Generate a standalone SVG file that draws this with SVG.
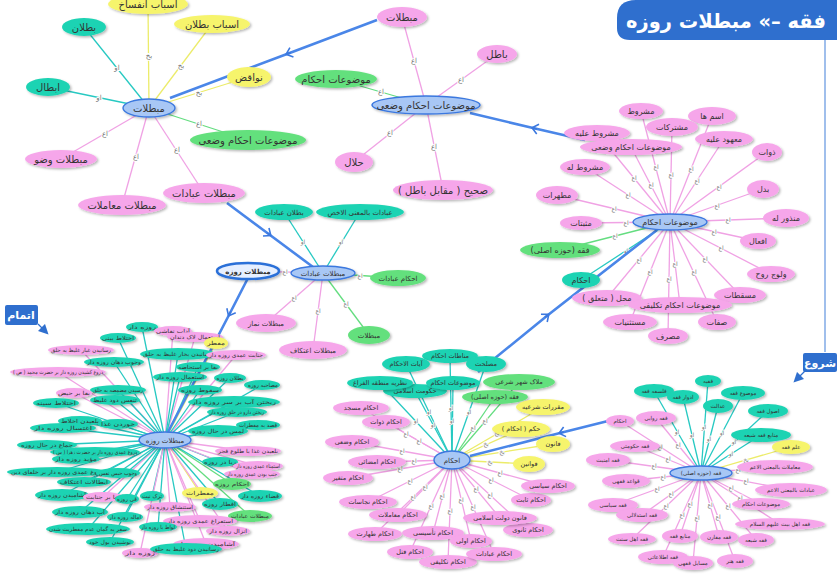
<svg xmlns="http://www.w3.org/2000/svg" width="837" height="574" viewBox="0 0 837 574">
<defs>
<filter id="sh" x="-20%" y="-40%" width="150%" height="200%"><feDropShadow dx="1.5" dy="1.5" stdDeviation="1" flood-color="#000" flood-opacity="0.28"/></filter>
<marker id="chev" markerUnits="userSpaceOnUse" markerWidth="14" markerHeight="14" refX="7" refY="7" orient="auto"><path d="M2 2 L8 7 L2 12 M8 7 L3 7" fill="none" stroke="#3b78df" stroke-width="1.6"/></marker>
<marker id="ah" markerUnits="userSpaceOnUse" markerWidth="10" markerHeight="10" refX="5" refY="5" orient="auto"><path d="M0 0 L10 5 L0 10 Z" fill="#2f6fce"/></marker>
</defs>
<style>
text{font-family:"DejaVu Sans",sans-serif;text-anchor:middle;fill:#333;direction:rtl}
ellipse{filter:url(#sh)}
.p{fill:#f6a6ea}.t{fill:#1fd3b3}.g{fill:#64e07d}.y{fill:#f6f46c}
.b{fill:#a8c7f5;stroke:#3b78df;stroke-width:1.4}
.bb{fill:#e6efff;stroke:#2b6fd8;stroke-width:2.6}
.f11{font-size:11px}.f10{font-size:10px}.f9{font-size:9px}.f8{font-size:8px}.f7{font-size:7px}.f65{font-size:6.5px}.f55{font-size:5.5px}
line{stroke-width:1.3}
.ep{stroke:#f0a2e4}.et{stroke:#27c9c2}.eg{stroke:#64dd80}.ey{stroke:#ecec6a}
.bl{stroke:#4a86e8;stroke-width:2.6;fill:none}
.el{font-size:7px;fill:#777;stroke:#fff;stroke-width:2;paint-order:stroke}
.es{font-size:6px;fill:#777;stroke:#fff;stroke-width:1.6;paint-order:stroke}
.w{fill:#fff;font-weight:bold}
</style>

<g id="title"><path d="M837 0 H636 Q617 0 617 18 V28 Q617 40 630 40 H837 Z" fill="#2f6fce"/><text x="726" y="28" class="w" style="font-size:20px" textLength="200" lengthAdjust="spacingAndGlyphs">فقه –» مبطلات روزه</text></g>
<g id="start-end">
<line x1="825" y1="40" x2="825" y2="352" stroke="#6d9de2" stroke-width="1.5"/>
<rect x="803" y="353" width="34" height="19" rx="2" fill="#2f6fce"/><text x="820" y="367" class="w" style="font-size:11px">شروع</text>
<line x1="806" y1="370" x2="797" y2="379" stroke="#2f6fce" stroke-width="2.5" marker-end="url(#ah)"/>
<rect x="5" y="305" width="33" height="20" rx="2" fill="#2f6fce"/><text x="21" y="319" class="w" style="font-size:11px">اتمام</text>
<line x1="38" y1="324" x2="45" y2="331" stroke="#2f6fce" stroke-width="2.5" marker-end="url(#ah)"/>
</g>

<g id="connectors">
<line class="ey" x1="149" y1="108" x2="148" y2="4"/>
<line class="et" x1="149" y1="108" x2="84" y2="27"/>
<line class="ey" x1="149" y1="108" x2="212" y2="24"/>
<line class="ey" x1="149" y1="108" x2="249" y2="77"/>
<line class="et" x1="149" y1="108" x2="48" y2="87"/>
<line class="eg" x1="149" y1="108" x2="248" y2="140"/>
<line class="ep" x1="149" y1="108" x2="61" y2="159"/>
<line class="ep" x1="149" y1="108" x2="204" y2="193"/>
<line class="ep" x1="149" y1="108" x2="122" y2="205"/>
<text class="el" x="149" y="58">بخ</text><text class="el" x="117" y="70">او</text><text class="el" x="181" y="68">بخ</text><text class="el" x="199" y="95">بخ</text><text class="el" x="99" y="100">او</text><text class="el" x="199" y="126">اع</text><text class="el" x="105" y="136">اع</text><text class="el" x="177" y="152">اع</text><text class="el" x="136" y="159">اع</text>
<line class="ep" x1="426" y1="105" x2="402" y2="17"/>
<line class="ep" x1="426" y1="105" x2="497" y2="54"/>
<line class="eg" x1="426" y1="105" x2="336" y2="79"/>
<line class="ep" x1="426" y1="105" x2="354" y2="162"/>
<line class="ep" x1="426" y1="105" x2="443" y2="190"/>
<text class="el" x="414" y="63">اع</text><text class="el" x="461" y="82">اع</text><text class="el" x="381" y="94">اع</text><text class="el" x="390" y="135">اع</text><text class="el" x="434" y="149">اع</text>
<line class="ep" x1="670" y1="222" x2="641" y2="111"/>
<line class="ep" x1="670" y1="222" x2="712" y2="116"/>
<line class="ep" x1="670" y1="222" x2="672" y2="127"/>
<line class="ep" x1="670" y1="222" x2="597" y2="133"/>
<line class="ep" x1="670" y1="222" x2="724" y2="139"/>
<line class="ep" x1="670" y1="222" x2="631" y2="147"/>
<line class="ep" x1="670" y1="222" x2="767" y2="152"/>
<line class="ep" x1="670" y1="222" x2="585" y2="167"/>
<line class="ep" x1="670" y1="222" x2="763" y2="189"/>
<line class="ep" x1="670" y1="222" x2="557" y2="195"/>
<line class="ep" x1="670" y1="222" x2="581" y2="223"/>
<line class="ep" x1="670" y1="222" x2="786" y2="218"/>
<line class="ep" x1="670" y1="222" x2="758" y2="241"/>
<line class="ep" x1="670" y1="222" x2="771" y2="274"/>
<line class="ep" x1="670" y1="222" x2="740" y2="295"/>
<line class="ep" x1="670" y1="222" x2="680" y2="305"/>
<line class="ep" x1="670" y1="222" x2="607" y2="298"/>
<line class="ep" x1="670" y1="222" x2="717" y2="322"/>
<line class="ep" x1="670" y1="222" x2="630" y2="322"/>
<line class="ep" x1="670" y1="222" x2="668" y2="336"/>
<line class="eg" x1="670" y1="222" x2="560" y2="250"/>
<line class="et" x1="670" y1="222" x2="581" y2="280"/>
<text class="es" x="656" y="169">اع</text><text class="es" x="691" y="171">اع</text><text class="es" x="671" y="177">اع</text><text class="es" x="634" y="180">اع</text><text class="es" x="697" y="183">اع</text><text class="es" x="651" y="187">اع</text><text class="es" x="719" y="189">اع</text><text class="es" x="628" y="197">اع</text><text class="es" x="717" y="208">اع</text><text class="es" x="614" y="211">اع</text><text class="es" x="626" y="225">اع</text><text class="es" x="728" y="222">اع</text><text class="es" x="714" y="234">اع</text><text class="es" x="721" y="250">اع</text><text class="es" x="705" y="261">اع</text><text class="es" x="675" y="266">اع</text><text class="es" x="639" y="262">اع</text><text class="es" x="694" y="274">اع</text><text class="es" x="650" y="274">اع</text><text class="es" x="669" y="281">اع</text><text class="es" x="615" y="238">اع</text><text class="es" x="626" y="253">او</text>
<line class="et" x1="323" y1="273" x2="284" y2="212"/>
<line class="et" x1="323" y1="273" x2="360" y2="212"/>
<line class="eg" x1="323" y1="273" x2="398" y2="278"/>
<line class="ep" x1="323" y1="273" x2="248" y2="271"/>
<line class="ep" x1="323" y1="273" x2="266" y2="323"/>
<line class="ep" x1="323" y1="273" x2="313" y2="350"/>
<line class="eg" x1="323" y1="273" x2="369" y2="335"/>
<text class="es" x="303" y="244">او</text><text class="es" x="341" y="244">او</text><text class="es" x="360" y="278">اع</text><text class="es" x="285" y="274">اع</text><text class="es" x="294" y="300">اع</text><text class="es" x="318" y="313">اع</text><text class="es" x="346" y="306">اع</text>
<line class="et" x1="452" y1="460" x2="450" y2="356"/>
<line class="et" x1="452" y1="460" x2="406" y2="364"/>
<line class="et" x1="452" y1="460" x2="486" y2="364"/>
<line class="et" x1="452" y1="460" x2="380" y2="383"/>
<line class="et" x1="452" y1="460" x2="415" y2="391"/>
<line class="et" x1="452" y1="460" x2="453" y2="383"/>
<line class="eg" x1="452" y1="460" x2="519" y2="382"/>
<line class="eg" x1="452" y1="460" x2="495" y2="397"/>
<line class="ey" x1="452" y1="460" x2="543" y2="407"/>
<line class="ey" x1="452" y1="460" x2="521" y2="429"/>
<line class="ey" x1="452" y1="460" x2="553" y2="444"/>
<line class="ey" x1="452" y1="460" x2="529" y2="464"/>
<line class="ep" x1="452" y1="460" x2="361" y2="408"/>
<line class="ep" x1="452" y1="460" x2="386" y2="422"/>
<line class="ep" x1="452" y1="460" x2="352" y2="442"/>
<line class="ep" x1="452" y1="460" x2="377" y2="462"/>
<line class="ep" x1="452" y1="460" x2="348" y2="478"/>
<line class="ep" x1="452" y1="460" x2="368" y2="502"/>
<line class="ep" x1="452" y1="460" x2="398" y2="515"/>
<line class="ep" x1="452" y1="460" x2="375" y2="534"/>
<line class="ep" x1="452" y1="460" x2="433" y2="533"/>
<line class="ep" x1="452" y1="460" x2="410" y2="552"/>
<line class="ep" x1="452" y1="460" x2="448" y2="562"/>
<line class="ep" x1="452" y1="460" x2="471" y2="541"/>
<line class="ep" x1="452" y1="460" x2="494" y2="554"/>
<line class="ep" x1="452" y1="460" x2="528" y2="530"/>
<line class="ep" x1="452" y1="460" x2="500" y2="518"/>
<line class="ep" x1="452" y1="460" x2="531" y2="500"/>
<line class="ep" x1="452" y1="460" x2="548" y2="486"/>
<text class="es" x="451" y="410">او</text><text class="es" x="429" y="414">او</text><text class="es" x="469" y="414">او</text><text class="es" x="416" y="423">او</text><text class="es" x="433" y="427">او</text><text class="es" x="452" y="423">او</text><text class="es" x="485" y="423">اع</text><text class="es" x="473" y="430">اع</text><text class="es" x="497" y="435">بخ</text><text class="es" x="486" y="446">بخ</text><text class="es" x="502" y="454">بخ</text><text class="es" x="490" y="464">بخ</text>
<text class="es" x="406" y="436">اع</text><text class="es" x="419" y="443">اع</text><text class="es" x="402" y="453">اع</text><text class="es" x="414" y="463">اع</text><text class="es" x="400" y="471">اع</text><text class="es" x="410" y="483">اع</text><text class="es" x="425" y="489">اع</text><text class="es" x="413" y="499">اع</text><text class="es" x="442" y="498">اع</text><text class="es" x="431" y="508">اع</text><text class="es" x="450" y="513">اع</text><text class="es" x="461" y="502">اع</text><text class="es" x="473" y="509">اع</text><text class="es" x="490" y="497">اع</text><text class="es" x="476" y="491">اع</text><text class="es" x="491" y="482">اع</text><text class="es" x="500" y="475">اع</text>
<line class="et" x1="701" y1="473" x2="708" y2="381"/>
<line class="et" x1="701" y1="473" x2="654" y2="391"/>
<line class="et" x1="701" y1="473" x2="683" y2="397"/>
<line class="et" x1="701" y1="473" x2="743" y2="393"/>
<line class="et" x1="701" y1="473" x2="718" y2="406"/>
<line class="et" x1="701" y1="473" x2="768" y2="411"/>
<line class="et" x1="701" y1="473" x2="761" y2="435"/>
<line class="ey" x1="701" y1="473" x2="791" y2="447"/>
<line class="ep" x1="701" y1="473" x2="620" y2="421"/>
<line class="ep" x1="701" y1="473" x2="656" y2="418"/>
<line class="ep" x1="701" y1="473" x2="635" y2="446"/>
<line class="ep" x1="701" y1="473" x2="608" y2="460"/>
<line class="ep" x1="701" y1="473" x2="775" y2="467"/>
<line class="ep" x1="701" y1="473" x2="626" y2="481"/>
<line class="ep" x1="701" y1="473" x2="791" y2="490"/>
<line class="ep" x1="701" y1="473" x2="761" y2="504"/>
<line class="ep" x1="701" y1="473" x2="613" y2="505"/>
<line class="ep" x1="701" y1="473" x2="642" y2="515"/>
<line class="ep" x1="701" y1="473" x2="780" y2="524"/>
<line class="ep" x1="701" y1="473" x2="632" y2="539"/>
<line class="ep" x1="701" y1="473" x2="680" y2="536"/>
<line class="ep" x1="701" y1="473" x2="719" y2="537"/>
<line class="ep" x1="701" y1="473" x2="756" y2="540"/>
<line class="ep" x1="701" y1="473" x2="663" y2="557"/>
<line class="ep" x1="701" y1="473" x2="693" y2="563"/>
<line class="ep" x1="701" y1="473" x2="735" y2="561"/>
<text class="es" x="704" y="429">او</text><text class="es" x="677" y="434">او</text><text class="es" x="692" y="437">او</text><text class="es" x="722" y="435">او</text><text class="es" x="709" y="441">او</text><text class="es" x="734" y="444">او</text><text class="es" x="731" y="456">او</text><text class="es" x="746" y="462">بخ</text><text class="es" x="660" y="449">اع</text><text class="es" x="678" y="447">اع</text><text class="es" x="668" y="461">اع</text><text class="es" x="654" y="468">اع</text><text class="es" x="738" y="472">اع</text><text class="es" x="663" y="479">اع</text><text class="es" x="746" y="483">اع</text><text class="es" x="731" y="490">اع</text><text class="es" x="657" y="491">اع</text><text class="es" x="671" y="496">اع</text><text class="es" x="740" y="500">اع</text><text class="es" x="666" y="508">اع</text><text class="es" x="690" y="506">اع</text><text class="es" x="710" y="507">اع</text><text class="es" x="728" y="508">اع</text><text class="es" x="682" y="517">اع</text><text class="es" x="697" y="520">اع</text><text class="es" x="718" y="519">اع</text>
<line class="et" x1="165" y1="440" x2="142" y2="327"/><line class="ep" x1="165" y1="440" x2="173" y2="331"/><line class="et" x1="165" y1="440" x2="118" y2="338"/><line class="ep" x1="165" y1="440" x2="195" y2="337"/><line class="ey" x1="165" y1="440" x2="216" y2="343"/><line class="ep" x1="165" y1="440" x2="81" y2="350"/><line class="et" x1="165" y1="440" x2="178" y2="354"/><line class="ep" x1="165" y1="440" x2="236" y2="355"/><line class="et" x1="165" y1="440" x2="114" y2="362"/><line class="et" x1="165" y1="440" x2="198" y2="367"/><line class="ep" x1="165" y1="440" x2="58" y2="372"/><line class="et" x1="165" y1="440" x2="180" y2="377"/><line class="et" x1="165" y1="440" x2="262" y2="385"/><line class="et" x1="165" y1="440" x2="230" y2="378"/><line class="et" x1="165" y1="440" x2="118" y2="390"/><line class="ep" x1="165" y1="440" x2="74" y2="393"/><line class="et" x1="165" y1="440" x2="200" y2="390"/><line class="et" x1="165" y1="440" x2="115" y2="400"/><line class="et" x1="165" y1="440" x2="56" y2="403"/><line class="et" x1="165" y1="440" x2="234" y2="402"/><line class="et" x1="165" y1="440" x2="237" y2="412"/><line class="et" x1="165" y1="440" x2="80" y2="421"/><line class="et" x1="165" y1="440" x2="118" y2="424"/><line class="et" x1="165" y1="440" x2="63" y2="428"/><line class="et" x1="165" y1="440" x2="258" y2="425"/><line class="et" x1="165" y1="440" x2="218" y2="431"/><line class="et" x1="165" y1="440" x2="47" y2="445"/><line class="ep" x1="165" y1="440" x2="248" y2="451"/><line class="et" x1="165" y1="440" x2="95" y2="452"/><line class="et" x1="165" y1="440" x2="76" y2="459"/><line class="et" x1="165" y1="440" x2="220" y2="462"/><line class="ep" x1="165" y1="440" x2="258" y2="466"/><line class="ep" x1="165" y1="440" x2="252" y2="474"/><line class="et" x1="165" y1="440" x2="57" y2="472"/><line class="et" x1="165" y1="440" x2="118" y2="473"/><line class="et" x1="165" y1="440" x2="84" y2="482"/><line class="eg" x1="165" y1="440" x2="232" y2="484"/><line class="ey" x1="165" y1="440" x2="200" y2="493"/><line class="et" x1="165" y1="440" x2="62" y2="495"/><line class="ep" x1="165" y1="440" x2="103" y2="497"/><line class="et" x1="165" y1="440" x2="127" y2="499"/><line class="et" x1="165" y1="440" x2="260" y2="496"/><line class="et" x1="165" y1="440" x2="152" y2="496"/><line class="ep" x1="165" y1="440" x2="170" y2="507"/><line class="et" x1="165" y1="440" x2="220" y2="504"/><line class="et" x1="165" y1="440" x2="80" y2="512"/><line class="eg" x1="165" y1="440" x2="250" y2="516"/><line class="et" x1="165" y1="440" x2="125" y2="517"/><line class="ep" x1="165" y1="440" x2="200" y2="521"/><line class="et" x1="165" y1="440" x2="158" y2="527"/><line class="et" x1="165" y1="440" x2="88" y2="529"/><line class="ep" x1="165" y1="440" x2="228" y2="531"/><line class="et" x1="165" y1="440" x2="110" y2="542"/><line class="ep" x1="165" y1="440" x2="206" y2="544"/><line class="et" x1="165" y1="440" x2="186" y2="549"/><line class="ep" x1="165" y1="440" x2="140" y2="553"/>
<path class="bl" d="M377 20 L287 54 L170 98" marker-mid="url(#chev)"/>
<path class="bl" d="M585 140 L533 128 L470 113" marker-mid="url(#chev)"/>
<path class="bl" d="M227 203 L270 235 L313 267" marker-mid="url(#chev)"/>
<path class="bl" d="M248 278 L229 315 L168 432" marker-mid="url(#chev)"/>
<path class="bl" d="M478 372 L548 315 L657 230" marker-mid="url(#chev)"/>
<path class="bl" d="M608 421 L560 433 L470 456" marker-mid="url(#chev)"/>
</g>

<g id="cluster-mobtalat">
<g id="a1"><ellipse class="y" cx="148" cy="4" rx="40" ry="10"/><text class="f10" x="148" y="8">اسباب انفساخ</text></g>
<g id="a2"><ellipse class="t" cx="84" cy="27" rx="22" ry="9"/><text class="f10" x="84" y="31">بطلان</text></g>
<g id="a3"><ellipse class="y" cx="212" cy="24" rx="38" ry="9"/><text class="f10" x="212" y="28">اسباب بطلان</text></g>
<g id="a4"><ellipse class="y" cx="249" cy="77" rx="22" ry="10"/><text class="f10" x="249" y="81">نواقض</text></g>
<g id="a5"><ellipse class="t" cx="48" cy="87" rx="22" ry="9"/><text class="f10" x="48" y="91">ابطال</text></g>
<g id="a6"><ellipse class="g" cx="248" cy="140" rx="58" ry="10"/><text class="f10" x="248" y="144">موضوعات احکام وضعی</text></g>
<g id="a7"><ellipse class="p" cx="61" cy="159" rx="36" ry="9"/><text class="f10" x="61" y="163">مبطلات وضو</text></g>
<g id="a8"><ellipse class="p" cx="204" cy="193" rx="41" ry="10"/><text class="f10" x="204" y="197">مبطلات عبادات</text></g>
<g id="a9"><ellipse class="p" cx="122" cy="205" rx="44" ry="10"/><text class="f10" x="122" y="209">مبطلات معاملات</text></g>
<g id="c1"><ellipse class="b" cx="149" cy="108" rx="26" ry="9"/><text class="f10" x="149" y="112">مبطلات</text></g>
</g>

<g id="cluster-vazi">
<g id="b1"><ellipse class="p" cx="402" cy="17" rx="25" ry="10"/><text class="f10" x="402" y="21">مبطلات</text></g>
<g id="b2"><ellipse class="p" cx="497" cy="54" rx="20" ry="9"/><text class="f10" x="497" y="58">باطل</text></g>
<g id="b3"><ellipse class="g" cx="336" cy="79" rx="41" ry="9"/><text class="f10" x="336" y="83">موضوعات احکام</text></g>
<g id="b4"><ellipse class="p" cx="354" cy="162" rx="19" ry="10"/><text class="f10" x="354" y="166">حلال</text></g>
<g id="b5"><ellipse class="p" cx="443" cy="190" rx="50" ry="10"/><text class="f10" x="443" y="194">صحیح ( مقابل باطل )</text></g>
<g id="c2"><ellipse class="b" cx="426" cy="105" rx="54" ry="9"/><text class="f10" x="426" y="109">موضوعات احکام وضعی</text></g>
</g>

<g id="cluster-mozooat">
<g id="d1"><ellipse class="p" cx="641" cy="111" rx="22" ry="8"/><text class="f8" x="641" y="114">مشروط</text></g>
<g id="d2"><ellipse class="p" cx="712" cy="116" rx="24" ry="9"/><text class="f8" x="712" y="119">اسم ها</text></g>
<g id="d3"><ellipse class="p" cx="672" cy="127" rx="26" ry="9"/><text class="f8" x="672" y="130">مشترکات</text></g>
<g id="d4"><ellipse class="p" cx="597" cy="133" rx="33" ry="8"/><text class="f8" x="597" y="136">مشروط علیه</text></g>
<g id="d5"><ellipse class="p" cx="724" cy="139" rx="29" ry="8"/><text class="f8" x="724" y="142">معهود علیه</text></g>
<g id="d6"><ellipse class="p" cx="631" cy="147" rx="51" ry="8"/><text class="f8" x="631" y="150">موضوعات احکام وضعی</text></g>
<g id="d7"><ellipse class="p" cx="767" cy="152" rx="15" ry="9"/><text class="f8" x="767" y="155">ذوات</text></g>
<g id="d8"><ellipse class="p" cx="585" cy="167" rx="25" ry="8"/><text class="f8" x="585" y="170">مشروط له</text></g>
<g id="d9"><ellipse class="p" cx="763" cy="189" rx="16" ry="9"/><text class="f8" x="763" y="192">بدل</text></g>
<g id="d10"><ellipse class="p" cx="557" cy="195" rx="21" ry="9"/><text class="f8" x="557" y="198">مطهرات</text></g>
<g id="d11"><ellipse class="p" cx="581" cy="223" rx="21" ry="7"/><text class="f8" x="581" y="226">مثبتات</text></g>
<g id="d12"><ellipse class="p" cx="786" cy="218" rx="23" ry="9"/><text class="f8" x="786" y="221">منذور له</text></g>
<g id="d13"><ellipse class="p" cx="758" cy="241" rx="18" ry="8"/><text class="f8" x="758" y="244">افعال</text></g>
<g id="d14"><ellipse class="p" cx="771" cy="274" rx="24" ry="8"/><text class="f8" x="771" y="277">ولوج روح</text></g>
<g id="d15"><ellipse class="p" cx="740" cy="295" rx="26" ry="8"/><text class="f8" x="740" y="298">مسقطات</text></g>
<g id="d17"><ellipse class="p" cx="607" cy="298" rx="35" ry="8"/><text class="f8" x="607" y="301">محل ( متعلق )</text></g>
<g id="d19"><ellipse class="p" cx="630" cy="322" rx="27" ry="8"/><text class="f8" x="630" y="325">مستثنیات</text></g>
<g id="d18"><ellipse class="p" cx="717" cy="322" rx="19" ry="8"/><text class="f8" x="717" y="325">صفات</text></g>
<g id="d20"><ellipse class="p" cx="668" cy="336" rx="20" ry="8"/><text class="f8" x="668" y="339">مصرف</text></g>
<g id="d16"><ellipse class="p" cx="680" cy="305" rx="52" ry="8"/><text class="f8" x="680" y="308">موضوعات احکام تکلیفی</text></g>
<g id="d21"><ellipse class="g" cx="560" cy="250" rx="40" ry="8"/><text class="f8" x="560" y="253">فقه (حوزه اصلی)</text></g>
<g id="d22"><ellipse class="t" cx="581" cy="280" rx="19" ry="8"/><text class="f8" x="581" y="283">احکام</text></g>
<g id="c3"><ellipse class="b" cx="670" cy="222" rx="37" ry="8"/><text class="f8" x="670" y="225">موضوعات احکام</text></g>
</g>

<g id="cluster-ebadat">
<g id="e1"><ellipse class="t" cx="284" cy="212" rx="29" ry="8"/><text class="f7" x="284" y="215">بطلان عبادات</text></g>
<g id="e2"><ellipse class="t" cx="360" cy="212" rx="44" ry="8"/><text class="f7" x="360" y="215">عبادات بالمعنی الاخص</text></g>
<g id="e3"><ellipse class="g" cx="398" cy="278" rx="28" ry="8"/><text class="f7" x="398" y="281">احکام عبادات</text></g>
<g id="e4"><ellipse class="bb" cx="248" cy="271" rx="31" ry="8"/><text class="f7" x="248" y="274" style="font-weight:bold">مبطلات روزه</text></g>
<g id="e5"><ellipse class="p" cx="266" cy="323" rx="30" ry="9"/><text class="f7" x="266" y="326">مبطلات نماز</text></g>
<g id="e6"><ellipse class="p" cx="313" cy="350" rx="34" ry="9"/><text class="f7" x="313" y="353">مبطلات اعتکاف</text></g>
<g id="e7"><ellipse class="g" cx="369" cy="335" rx="21" ry="9"/><text class="f7" x="369" y="338">مبطلات</text></g>
<g id="c4"><ellipse class="b" cx="323" cy="273" rx="32" ry="7"/><text class="f7" x="323" y="276">مبطلات عبادات</text></g>
</g>

<g id="cluster-ahkam">
<g id="f1"><ellipse class="t" cx="450" cy="356" rx="28" ry="7"/><text class="f65" x="450" y="358">مناطات احکام</text></g>
<g id="f2"><ellipse class="t" cx="406" cy="364" rx="24" ry="8"/><text class="f65" x="406" y="366">آیات الاحکام</text></g>
<g id="f3"><ellipse class="t" cx="486" cy="364" rx="20" ry="8"/><text class="f65" x="486" y="366">مصلحت</text></g>
<g id="f5"><ellipse class="t" cx="415" cy="391" rx="32" ry="7"/><text class="f65" x="415" y="393">حکومت اسلامی</text></g>
<g id="f4"><ellipse class="t" cx="380" cy="383" rx="33" ry="7"/><text class="f65" x="380" y="385">نظریه منطقه الفراغ</text></g>
<g id="f6"><ellipse class="t" cx="453" cy="383" rx="27" ry="7"/><text class="f65" x="453" y="385">موضوعات احکام</text></g>
<g id="f7"><ellipse class="g" cx="519" cy="382" rx="36" ry="8"/><text class="f65" x="519" y="384">ملاک شهر شرعی</text></g>
<g id="f8"><ellipse class="g" cx="495" cy="397" rx="33" ry="7"/><text class="f65" x="495" y="399">فقه (حوزه اصلی)</text></g>
<g id="f9"><ellipse class="y" cx="543" cy="407" rx="27" ry="8"/><text class="f65" x="543" y="409">مقررات شرعیه</text></g>
<g id="f10"><ellipse class="y" cx="521" cy="429" rx="29" ry="8"/><text class="f65" x="521" y="431">حکم ( احکام )</text></g>
<g id="f11"><ellipse class="y" cx="553" cy="444" rx="17" ry="8"/><text class="f65" x="553" y="446">قانون</text></g>
<g id="f12"><ellipse class="y" cx="529" cy="464" rx="16" ry="8"/><text class="f65" x="529" y="466">قوانین</text></g>
<g id="f13"><ellipse class="p" cx="361" cy="408" rx="28" ry="7"/><text class="f65" x="361" y="410">احکام مسجد</text></g>
<g id="f14"><ellipse class="p" cx="386" cy="422" rx="24" ry="7"/><text class="f65" x="386" y="424">احکام ذوات</text></g>
<g id="f15"><ellipse class="p" cx="352" cy="442" rx="27" ry="7"/><text class="f65" x="352" y="444">احکام وضعی</text></g>
<g id="f16"><ellipse class="p" cx="377" cy="462" rx="29" ry="7"/><text class="f65" x="377" y="464">احکام امضائی</text></g>
<g id="f17"><ellipse class="p" cx="348" cy="478" rx="25" ry="7"/><text class="f65" x="348" y="480">احکام متغیر</text></g>
<g id="f18"><ellipse class="p" cx="368" cy="502" rx="29" ry="7"/><text class="f65" x="368" y="504">احکام نجاسات</text></g>
<g id="f19"><ellipse class="p" cx="398" cy="515" rx="29" ry="7"/><text class="f65" x="398" y="517">احکام معاملات</text></g>
<g id="f20"><ellipse class="p" cx="375" cy="534" rx="27" ry="7"/><text class="f65" x="375" y="536">احکام طهارت</text></g>
<g id="f21"><ellipse class="p" cx="433" cy="533" rx="31" ry="7"/><text class="f65" x="433" y="535">احکام تأسیسی</text></g>
<g id="f22"><ellipse class="p" cx="410" cy="552" rx="23" ry="7"/><text class="f65" x="410" y="554">احکام قتل</text></g>
<g id="f24"><ellipse class="p" cx="471" cy="541" rx="21" ry="7"/><text class="f65" x="471" y="543">احکام اولی</text></g>
<g id="f23"><ellipse class="p" cx="448" cy="562" rx="29" ry="7"/><text class="f65" x="448" y="564">احکام تکلیفی</text></g>
<g id="f25"><ellipse class="p" cx="494" cy="554" rx="28" ry="7"/><text class="f65" x="494" y="556">احکام عبادات</text></g>
<g id="f26"><ellipse class="p" cx="528" cy="530" rx="25" ry="7"/><text class="f65" x="528" y="532">احکام ثانوی</text></g>
<g id="f27"><ellipse class="p" cx="500" cy="518" rx="37" ry="7"/><text class="f65" x="500" y="520">قانون دولت اسلامی</text></g>
<g id="f28"><ellipse class="p" cx="531" cy="500" rx="20" ry="7"/><text class="f65" x="531" y="502">احکام ثابت</text></g>
<g id="f29"><ellipse class="p" cx="548" cy="486" rx="27" ry="7"/><text class="f65" x="548" y="488">احکام سیاسی</text></g>
<g id="c5"><ellipse class="b" cx="452" cy="460" rx="18" ry="9"/><text class="f7" x="452" y="463">احکام</text></g>
</g>

<g id="cluster-feqh">
<g id="g1"><ellipse class="t" cx="708" cy="381" rx="13" ry="6"/><text class="f55" x="708" y="383">فقیه</text></g>
<g id="g2"><ellipse class="t" cx="654" cy="391" rx="20" ry="7"/><text class="f55" x="654" y="393">فلسفه فقه</text></g>
<g id="g3"><ellipse class="t" cx="683" cy="397" rx="16" ry="7"/><text class="f55" x="683" y="399">ادوار فقه</text></g>
<g id="g4"><ellipse class="t" cx="743" cy="393" rx="22" ry="7"/><text class="f55" x="743" y="395">موضوع فقه</text></g>
<g id="g5"><ellipse class="t" cx="718" cy="406" rx="15" ry="7"/><text class="f55" x="718" y="408">عدالت</text></g>
<g id="g6"><ellipse class="t" cx="768" cy="411" rx="20" ry="7"/><text class="f55" x="768" y="413">اصول فقه</text></g>
<g id="g7"><ellipse class="t" cx="761" cy="435" rx="30" ry="7"/><text class="f55" x="761" y="437">منابع فقه شیعه</text></g>
<g id="g8"><ellipse class="y" cx="791" cy="447" rx="19" ry="7"/><text class="f55" x="791" y="449">علم فقه</text></g>
<g id="g9"><ellipse class="p" cx="620" cy="421" rx="14" ry="6"/><text class="f55" x="620" y="423">احکام</text></g>
<g id="g10"><ellipse class="p" cx="656" cy="418" rx="20" ry="7"/><text class="f55" x="656" y="420">فقه روایی</text></g>
<g id="g11"><ellipse class="p" cx="635" cy="446" rx="25" ry="6"/><text class="f55" x="635" y="448">فقه حکومتی</text></g>
<g id="g12"><ellipse class="p" cx="608" cy="460" rx="22" ry="7"/><text class="f55" x="608" y="462">فقه امنیت</text></g>
<g id="g13"><ellipse class="p" cx="775" cy="467" rx="38" ry="7"/><text class="f55" x="775" y="469">معاملات بالمعنی الاعم</text></g>
<g id="g14"><ellipse class="p" cx="626" cy="481" rx="24" ry="7"/><text class="f55" x="626" y="483">قواعد فقهی</text></g>
<g id="g15"><ellipse class="p" cx="791" cy="490" rx="36" ry="7"/><text class="f55" x="791" y="492">عبادات بالمعنی الاعم</text></g>
<g id="g16"><ellipse class="p" cx="761" cy="504" rx="29" ry="6"/><text class="f55" x="761" y="506">موضوعات احکام</text></g>
<g id="g17"><ellipse class="p" cx="613" cy="505" rx="25" ry="7"/><text class="f55" x="613" y="507">فقه سیاسی</text></g>
<g id="g18"><ellipse class="p" cx="642" cy="515" rx="26" ry="7"/><text class="f55" x="642" y="517">فقه استدلالی</text></g>
<g id="g19"><ellipse class="p" cx="780" cy="524" rx="45" ry="6"/><text class="f55" x="780" y="526">فقه اهل بیت علیهم السلام</text></g>
<g id="g20"><ellipse class="p" cx="632" cy="539" rx="24" ry="6"/><text class="f55" x="632" y="541">فقه اهل سنت</text></g>
<g id="g21"><ellipse class="p" cx="680" cy="536" rx="18" ry="7"/><text class="f55" x="680" y="538">منابع فقه</text></g>
<g id="g22"><ellipse class="p" cx="719" cy="537" rx="19" ry="7"/><text class="f55" x="719" y="539">فقه مقارن</text></g>
<g id="g23"><ellipse class="p" cx="756" cy="540" rx="18" ry="7"/><text class="f55" x="756" y="542">فقه شیعه</text></g>
<g id="g24"><ellipse class="p" cx="663" cy="557" rx="25" ry="7"/><text class="f55" x="663" y="559">فقه اطلاعاتی</text></g>
<g id="g25"><ellipse class="p" cx="693" cy="563" rx="20" ry="7"/><text class="f55" x="693" y="565">مسایل فقهی</text></g>
<g id="g26"><ellipse class="p" cx="735" cy="561" rx="18" ry="7"/><text class="f55" x="735" y="563">فقه هنر</text></g>
<g id="c6"><ellipse class="b" cx="701" cy="473" rx="31" ry="7"/><text class="f55" x="701" y="475">فقه (حوزه اصلی)</text></g>
</g>

<g id="cluster-rooze" class="f55">
<g id="h1"><ellipse class="t" cx="142" cy="327" rx="16" ry="5"/><text x="142" y="329" textLength="28" lengthAdjust="spacingAndGlyphs">روزه دار</text></g>
<g id="h3"><ellipse class="t" cx="118" cy="338" rx="18" ry="5"/><text x="118" y="340" textLength="32" lengthAdjust="spacingAndGlyphs">اختلاط بینی</text></g>
<g id="h2"><ellipse class="p" cx="173" cy="331" rx="19" ry="5"/><text x="173" y="333" textLength="34" lengthAdjust="spacingAndGlyphs">آداب نقاشی</text></g>
<g id="h4"><ellipse class="p" cx="195" cy="337" rx="28" ry="5"/><text x="195" y="339" textLength="50" lengthAdjust="spacingAndGlyphs">استعمال لاک دندان</text></g>
<g id="h5"><ellipse class="y" cx="216" cy="343" rx="12" ry="6"/><text x="216" y="345" textLength="18" lengthAdjust="spacingAndGlyphs">مفطر</text></g>
<g id="h6"><ellipse class="p" cx="81" cy="350" rx="33" ry="5"/><text x="81" y="352" textLength="60" lengthAdjust="spacingAndGlyphs">رسانیدن غبار غلیظ به حلق</text></g>
<g id="h7"><ellipse class="t" cx="178" cy="354" rx="38" ry="6"/><text x="178" y="356" textLength="70" lengthAdjust="spacingAndGlyphs">رسانیدن بخار غلیظ به حلق</text></g>
<g id="h8"><ellipse class="p" cx="236" cy="355" rx="30" ry="5"/><text x="236" y="357" textLength="54" lengthAdjust="spacingAndGlyphs">جنابت عمدی روزه دار</text></g>
<g id="h9"><ellipse class="t" cx="114" cy="362" rx="30" ry="5"/><text x="114" y="364" textLength="54" lengthAdjust="spacingAndGlyphs">وجوب دهان روزه دار</text></g>
<g id="h10"><ellipse class="t" cx="198" cy="367" rx="22" ry="5"/><text x="198" y="369" textLength="40" lengthAdjust="spacingAndGlyphs">بقا بر استحاضه</text></g>
<g id="h11"><ellipse class="p" cx="58" cy="372" rx="48" ry="5"/><text x="58" y="374" textLength="90" lengthAdjust="spacingAndGlyphs">دروغ کشیدن روزه دار بر حضرت محمد ( ص )</text></g>
<g id="h13"><ellipse class="t" cx="180" cy="377" rx="27" ry="5"/><text x="180" y="379" textLength="48" lengthAdjust="spacingAndGlyphs">استعمال روزه دار</text></g>
<g id="h14"><ellipse class="t" cx="262" cy="385" rx="18" ry="5"/><text x="263" y="387" textLength="30" lengthAdjust="spacingAndGlyphs">مصاحبه روزه</text></g>
<g id="h15"><ellipse class="t" cx="230" cy="378" rx="16" ry="5"/><text x="230" y="380" textLength="27" lengthAdjust="spacingAndGlyphs">بطلان روزه</text></g>
<g id="h16"><ellipse class="t" cx="118" cy="390" rx="28" ry="5"/><text x="118" y="392" textLength="50" lengthAdjust="spacingAndGlyphs">رسیدن مضمضه به حلق</text></g>
<g id="h17"><ellipse class="p" cx="74" cy="393" rx="18" ry="5"/><text x="74" y="395" textLength="32" lengthAdjust="spacingAndGlyphs">بقا بر حیض</text></g>
<g id="h18"><ellipse class="t" cx="200" cy="390" rx="22" ry="5"/><text x="200" y="392" textLength="38" lengthAdjust="spacingAndGlyphs">سقوط روزه</text></g>
<g id="h19"><ellipse class="t" cx="115" cy="400" rx="25" ry="5"/><text x="115" y="402" textLength="44" lengthAdjust="spacingAndGlyphs">تنفس دود غلیظ</text></g>
<g id="h20"><ellipse class="t" cx="56" cy="403" rx="23" ry="5"/><text x="56" y="405" textLength="40" lengthAdjust="spacingAndGlyphs">اختلاط سینه</text></g>
<g id="h21"><ellipse class="t" cx="234" cy="402" rx="46" ry="6"/><text x="234" y="404" textLength="84" lengthAdjust="spacingAndGlyphs">ریختن آب بر سر روزه دار</text></g>
<g id="h22"><ellipse class="t" cx="237" cy="412" rx="30" ry="5"/><text x="237" y="414" textLength="54" lengthAdjust="spacingAndGlyphs">ریختن دارو در حلق روزه دار</text></g>
<g id="h23"><ellipse class="t" cx="80" cy="421" rx="22" ry="5"/><text x="80" y="423" textLength="38" lengthAdjust="spacingAndGlyphs">بلعیدن اخلاط</text></g>
<g id="h24"><ellipse class="t" cx="118" cy="424" rx="20" ry="5"/><text x="118" y="426" textLength="34" lengthAdjust="spacingAndGlyphs">خوردن غذا</text></g>
<g id="h25"><ellipse class="t" cx="63" cy="428" rx="33" ry="5"/><text x="63" y="430" textLength="58" lengthAdjust="spacingAndGlyphs">اغتسال روزه دار</text></g>
<g id="h26"><ellipse class="t" cx="258" cy="425" rx="22" ry="5"/><text x="258" y="427" textLength="38" lengthAdjust="spacingAndGlyphs">قصد به مفطرات</text></g>
<g id="h27"><ellipse class="t" cx="218" cy="431" rx="30" ry="6"/><text x="218" y="433" textLength="52" lengthAdjust="spacingAndGlyphs">لمس در حال روزه</text></g>
<g id="h28"><ellipse class="t" cx="47" cy="445" rx="30" ry="5"/><text x="47" y="447" textLength="52" lengthAdjust="spacingAndGlyphs">جماع در حال روزه</text></g>
<g id="h29"><ellipse class="p" cx="248" cy="451" rx="33" ry="5"/><text x="248" y="453" textLength="60" lengthAdjust="spacingAndGlyphs">بلعیدن غذا با طلوع فجر</text></g>
<g id="h30"><ellipse class="t" cx="95" cy="452" rx="45" ry="5"/><text x="95" y="454" textLength="84" lengthAdjust="spacingAndGlyphs">دروغ عمدی روزه دار بر حضرت زهرا ( س )</text></g>
<g id="h31"><ellipse class="t" cx="76" cy="459" rx="24" ry="5"/><text x="76" y="461" textLength="42" lengthAdjust="spacingAndGlyphs">مؤید روزه دار</text></g>
<g id="h32"><ellipse class="t" cx="220" cy="462" rx="18" ry="5"/><text x="220" y="464" textLength="32" lengthAdjust="spacingAndGlyphs">ربا در روزه</text></g>
<g id="h33"><ellipse class="p" cx="258" cy="466" rx="25" ry="5"/><text x="258" y="468" textLength="44" lengthAdjust="spacingAndGlyphs">استمناء عمدی روزه دار</text></g>
<g id="h34"><ellipse class="p" cx="252" cy="474" rx="28" ry="5"/><text x="252" y="476" textLength="50" lengthAdjust="spacingAndGlyphs">جنب بودن عمدی روزه دار</text></g>
<g id="h35"><ellipse class="t" cx="57" cy="472" rx="50" ry="5"/><text x="57" y="474" textLength="92" lengthAdjust="spacingAndGlyphs">دروغ عمدی روزه دار بر خلفای دین</text></g>
<g id="h36"><ellipse class="t" cx="118" cy="473" rx="22" ry="5"/><text x="118" y="475" textLength="38" lengthAdjust="spacingAndGlyphs">وجوب حبس نفس</text></g>
<g id="h37"><ellipse class="t" cx="84" cy="482" rx="27" ry="5"/><text x="84" y="484" textLength="48" lengthAdjust="spacingAndGlyphs">ابطالات اعتکاف</text></g>
<g id="h38"><ellipse class="g" cx="232" cy="484" rx="19" ry="6"/><text x="232" y="486" textLength="34" lengthAdjust="spacingAndGlyphs">احکام روزه</text></g>
<g id="h40"><ellipse class="t" cx="62" cy="495" rx="27" ry="6"/><text x="62" y="497" textLength="48" lengthAdjust="spacingAndGlyphs">آشامیدن روزه دار</text></g>
<g id="h41"><ellipse class="p" cx="103" cy="497" rx="20" ry="5"/><text x="103" y="499" textLength="34" lengthAdjust="spacingAndGlyphs">بقا بر جنابت</text></g>
<g id="h42"><ellipse class="t" cx="127" cy="499" rx="12" ry="5"/><text x="127" y="501" textLength="20" lengthAdjust="spacingAndGlyphs">قی روزه</text></g>
<g id="h44"><ellipse class="t" cx="152" cy="496" rx="12" ry="5"/><text x="152" y="498" textLength="20" lengthAdjust="spacingAndGlyphs">ترک نیت</text></g>
<g id="h39"><ellipse class="y" cx="200" cy="493" rx="18" ry="6"/><text x="200" y="495" textLength="28" lengthAdjust="spacingAndGlyphs">مفطرات</text></g>
<g id="h43"><ellipse class="t" cx="260" cy="496" rx="22" ry="6"/><text x="260" y="498" textLength="38" lengthAdjust="spacingAndGlyphs">قضاء روزه دار</text></g>
<g id="h45"><ellipse class="p" cx="170" cy="507" rx="26" ry="5"/><text x="170" y="509" textLength="46" lengthAdjust="spacingAndGlyphs">استنشاق روزه دار</text></g>
<g id="h46"><ellipse class="t" cx="220" cy="504" rx="18" ry="6"/><text x="220" y="506" textLength="32" lengthAdjust="spacingAndGlyphs">افطار روزه</text></g>
<g id="h47"><ellipse class="t" cx="80" cy="512" rx="28" ry="6"/><text x="80" y="514" textLength="50" lengthAdjust="spacingAndGlyphs">آب دهان روزه دار</text></g>
<g id="h48"><ellipse class="g" cx="250" cy="516" rx="22" ry="6"/><text x="250" y="518" textLength="38" lengthAdjust="spacingAndGlyphs">مبطلات عبادات</text></g>
<g id="h49"><ellipse class="t" cx="125" cy="517" rx="18" ry="5"/><text x="125" y="519" textLength="32" lengthAdjust="spacingAndGlyphs">اماله روزه دار</text></g>
<g id="h50"><ellipse class="p" cx="200" cy="521" rx="37" ry="6"/><text x="200" y="523" textLength="66" lengthAdjust="spacingAndGlyphs">استفراغ عمدی روزه دار</text></g>
<g id="h51"><ellipse class="t" cx="158" cy="527" rx="19" ry="5"/><text x="158" y="529" textLength="34" lengthAdjust="spacingAndGlyphs">لواط با روزه دار</text></g>
<g id="h52"><ellipse class="t" cx="88" cy="529" rx="42" ry="6"/><text x="88" y="531" textLength="78" lengthAdjust="spacingAndGlyphs">سفر به گمان عدم مفطریت شدن</text></g>
<g id="h53"><ellipse class="p" cx="228" cy="531" rx="22" ry="5"/><text x="228" y="533" textLength="38" lengthAdjust="spacingAndGlyphs">انزال روزه دار</text></g>
<g id="h54"><ellipse class="t" cx="110" cy="542" rx="24" ry="5"/><text x="110" y="544" textLength="42" lengthAdjust="spacingAndGlyphs">نوشیدن بول خود</text></g>
<g id="h55"><ellipse class="p" cx="206" cy="544" rx="33" ry="6"/><text x="206" y="546" textLength="58" lengthAdjust="spacingAndGlyphs">آشامیدن روزه دار</text></g>
<g id="h57"><ellipse class="p" cx="140" cy="553" rx="18" ry="5"/><text x="140" y="555" textLength="30" lengthAdjust="spacingAndGlyphs">روزه دار</text></g>
<g id="h56"><ellipse class="t" cx="186" cy="549" rx="36" ry="6"/><text x="186" y="551" textLength="66" lengthAdjust="spacingAndGlyphs">رسانیدن دود غلیظ به حلق</text></g>
<g id="c7"><ellipse class="b" cx="165" cy="440" rx="26" ry="8"/><text class="f7" x="165" y="443">مبطلات روزه</text></g>
</g>
</svg>
